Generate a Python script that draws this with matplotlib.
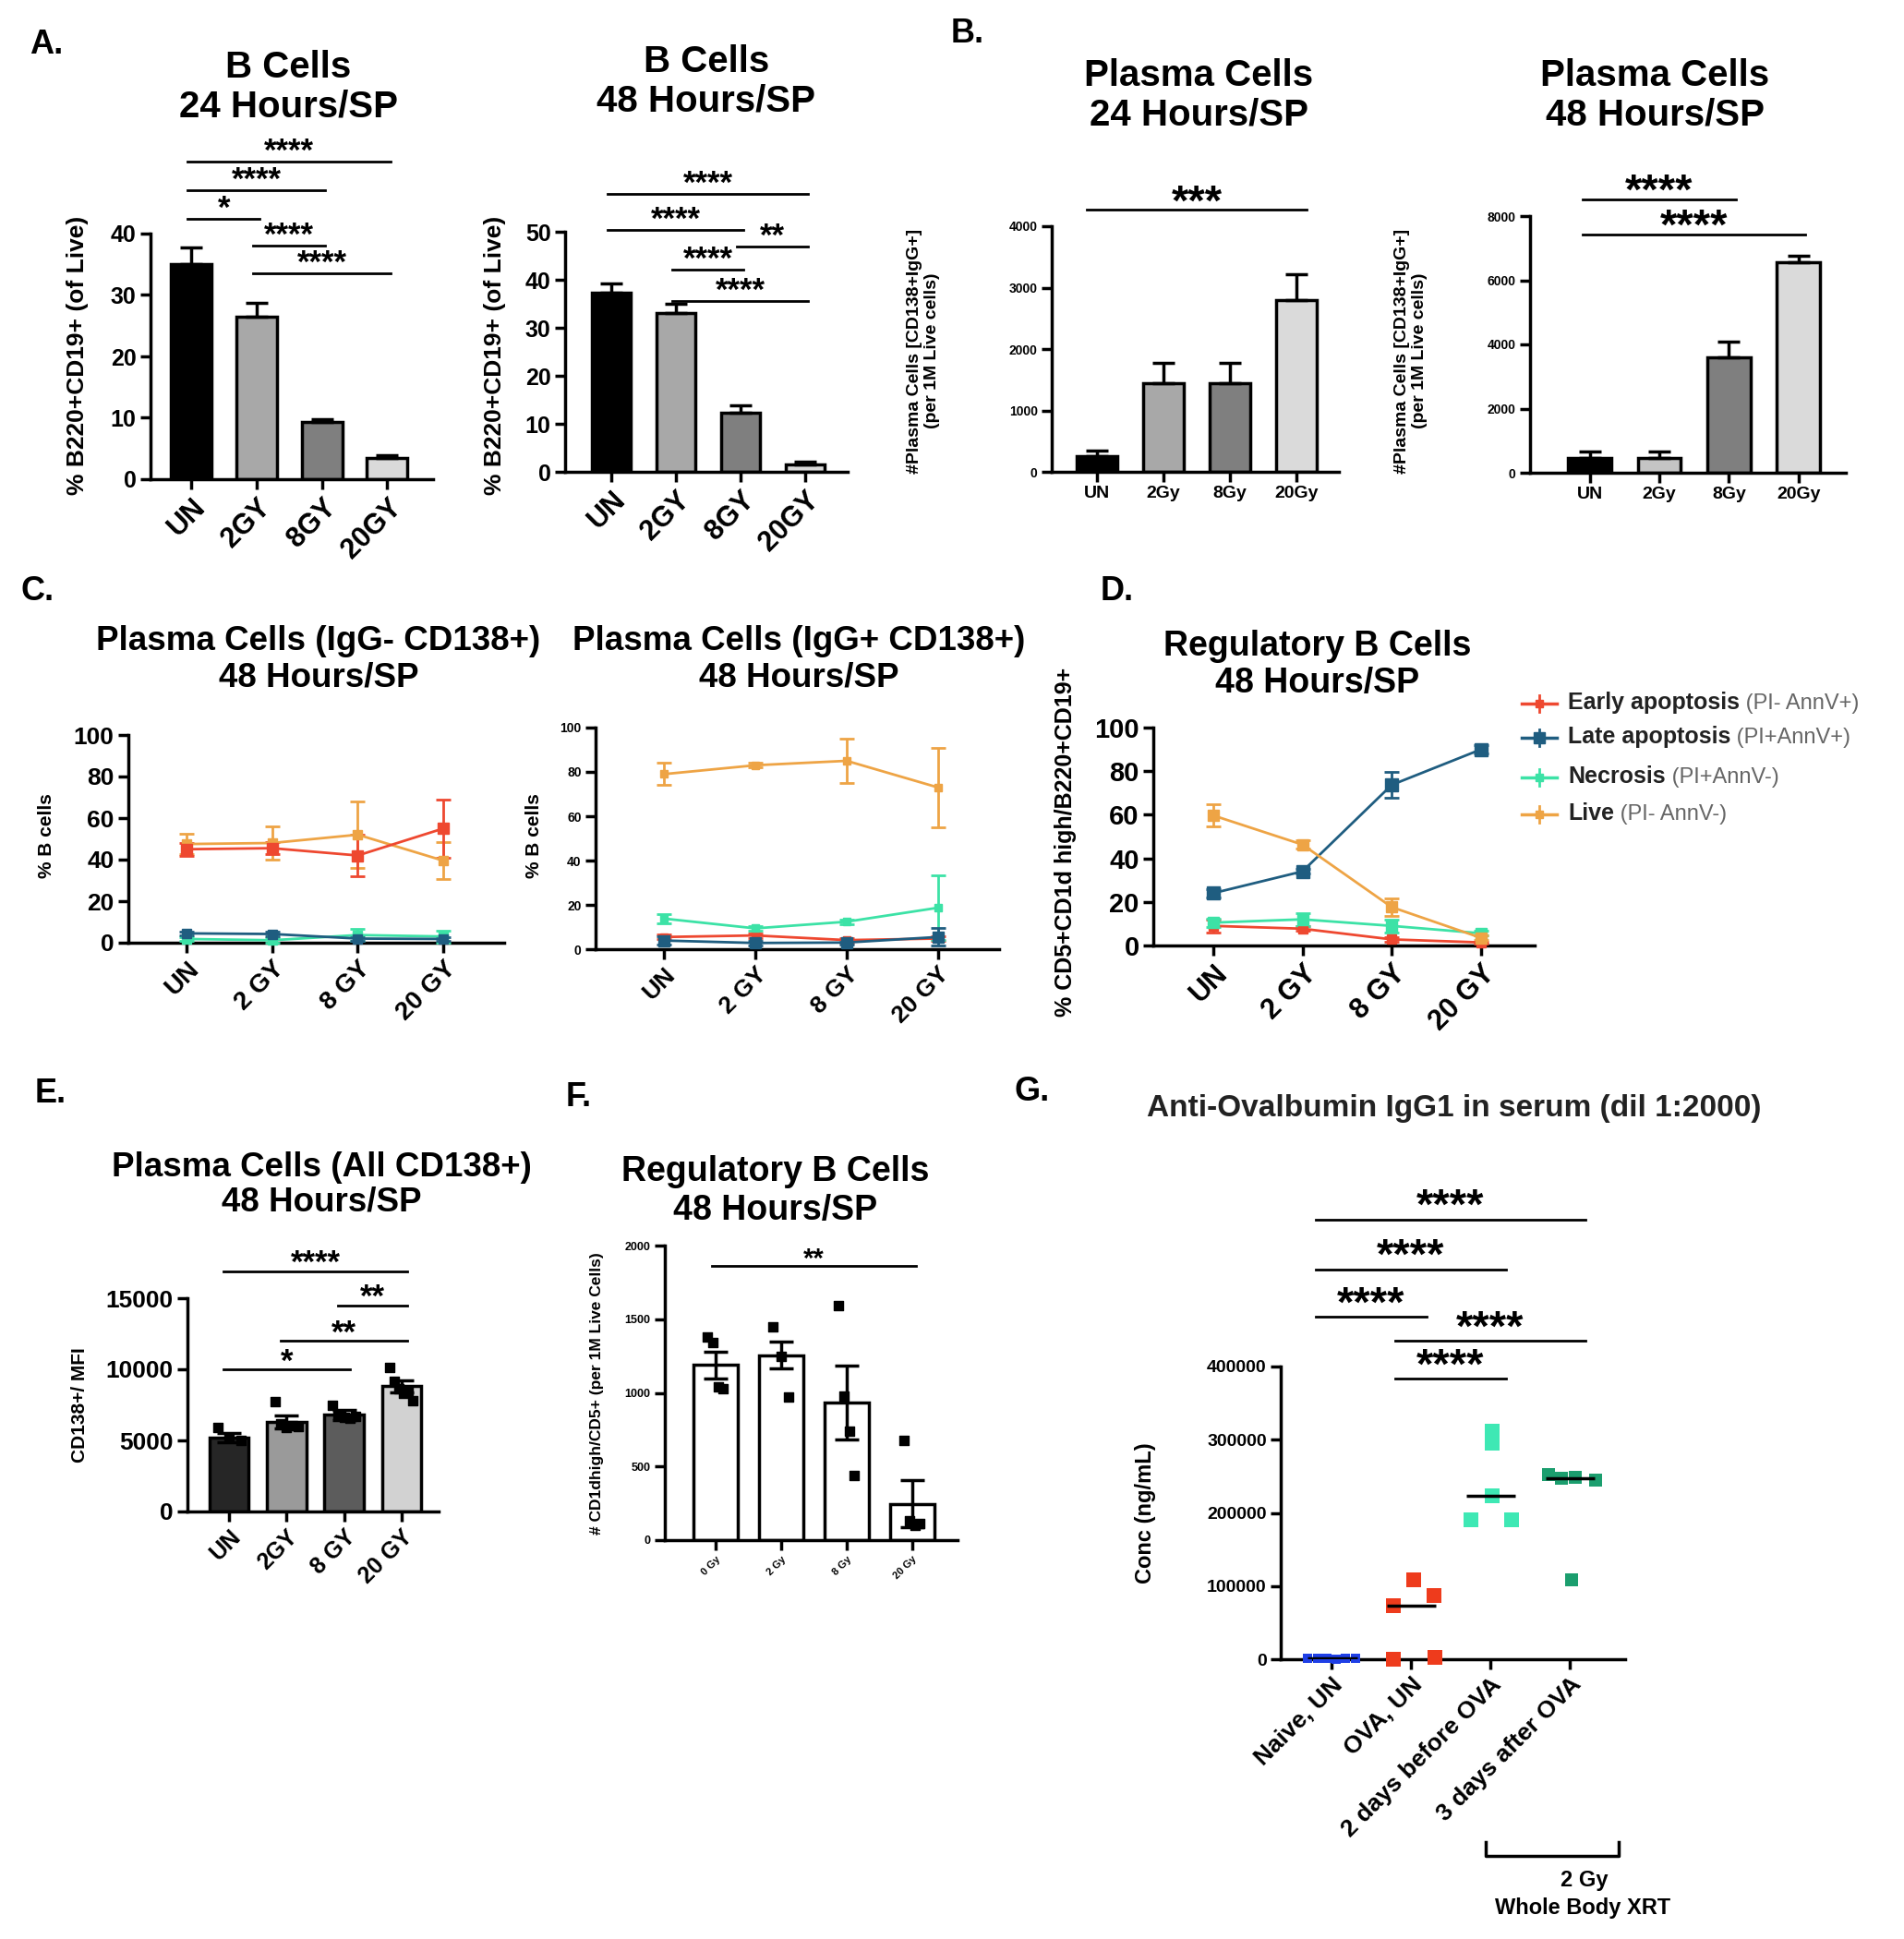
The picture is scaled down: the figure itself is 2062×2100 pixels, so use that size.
import numpy as np
import matplotlib
matplotlib.use("Agg")
import matplotlib.pyplot as plt

plt.rcParams['font.family'] = ['Liberation Sans', 'DejaVu Sans']

W, H = 2062, 2100

# ---------------- data ----------------
doses_a = ["UN", "2GY", "8GY", "20GY"]
doses_b = ["UN", "2Gy", "8Gy", "20Gy"]
doses_c = ["UN", "2 GY", "8 GY", "20 GY"]
doses_e = ["UN", "2GY", "8 GY", "20 GY"]
doses_f = ["0 Gy", "2 Gy", "8 Gy", "20 Gy"]
groups_g = ["Naive, UN", "OVA, UN", "2 days before OVA", "3 days after OVA"]

a1_mean = [35.0, 26.5, 9.3, 3.4]
a1_err = [2.8, 2.2, 0.5, 0.5]
a1_sig = [(0, 3, 51.7, "****"), (0, 2, 47.1, "****"), (0, 1, 42.4, "*"),
          (1, 2, 38.0, "****"), (1, 3, 33.5, "****")]
a2_mean = [37.3, 33.0, 12.3, 1.6]
a2_err = [2.0, 2.0, 1.5, 0.5]
a2_sig = [(0, 3, 57.9, "****"), (0, 2, 50.4, "****"), (2, 3, 46.9, "**"),
          (1, 2, 42.1, "****"), (1, 3, 35.6, "****")]

b1_mean = [250, 1450, 1450, 2800]
b1_err = [100, 330, 330, 420]
b1_sig = [(0, 3, 4270, "***")]
b2_mean = [450, 450, 3600, 6550]
b2_err = [200, 200, 500, 200]
b2_sig = [(0, 2, 8520, "****"), (0, 3, 7420, "****")]

c1_early, c1_early_err = [45.0, 45.5, 42.0, 55.0], [3, 3, 10, 14]
c1_late, c1_late_err = [4.5, 4.2, 2.0, 1.8], [1, 1, 1, 1]
c1_necro, c1_necro_err = [1.8, 1.2, 3.7, 3.0], [1, 1, 3, 3]
c1_live, c1_live_err = [47.5, 48.0, 52.0, 39.5], [5, 8, 16, 9]

c2_early, c2_early_err = [5.5, 6.2, 4.1, 4.8], [1, 1, 1, 1]
c2_late, c2_late_err = [3.9, 2.8, 3.0, 5.5], [2, 1, 1, 4]
c2_necro, c2_necro_err = [13.8, 9.4, 12.4, 18.7], [2, 1, 1, 14.5]
c2_live, c2_live_err = [79.0, 83.0, 85.0, 73.0], [5, 1, 10, 18]

d_early, d_early_err = [9.0, 7.7, 2.8, 1.4], [3, 1, 1, 0.5]
d_late, d_late_err = [24.0, 34.0, 73.7, 90.0], [2, 1, 6, 2]
d_necro, d_necro_err = [10.5, 12.0, 9.0, 5.6], [2, 3, 3, 1]
d_live, d_live_err = [59.7, 46.3, 17.6, 3.5], [5, 2, 4, 1]
d_names = ["Early apoptosis", "Late apoptosis", "Necrosis", "Live"]
d_gates = [" (PI- AnnV+)", " (PI+AnnV+)", " (PI+AnnV-)", " (PI- AnnV-)"]

e_mean = [5200, 6300, 6800, 8800]
e_err = [300, 450, 350, 450]
e_pts = [[5900, 5200, 5000], [7700, 6200, 5900, 6050, 6000],
         [7500, 6800, 6650, 6550, 6700], [10100, 9150, 8650, 8300, 8500, 7800]]
e_sig = [(0, 3, 16900, "****"), (2, 3, 14500, "**"), (1, 3, 12000, "**"), (0, 2, 10000, "*")]

f_mean = [1190, 1255, 935, 245]
f_err = [90, 90, 250, 160]
f_pts = [[1380, 1340, 1040, 1030], [1450, 1250, 970], [1590, 980, 740, 440], [680, 130, 100, 110]]
f_sig = [(0, 3, 1860, "**")]

g_naive = [1500, 800, 1200, 600, 1000, 900]
g_ova = [73600, 109000, 87600, 0, 3000]
g_before = [312000, 295000, 223000, 190000, 190000]
g_after = [252000, 247000, 248000, 245000, 109000]
g_sig = [(0, 3, 601000, "****"), (0, 2, 533000, "****"), (0, 1, 468000, "****"),
         (1, 3, 435000, "****"), (1, 2, 383000, "****")]

bar_grey_a = ["black", "#a8a8a8", "#7f7f7f", "#dadada"]
bar_grey_e = ["#262626", "#9a9a9a", "#5c5c5c", "#d2d2d2"]
col_early = "#ee4830"
col_late = "#1f5d80"
col_necro = "#3ce2a6"
col_live = "#eea445"

fig = plt.figure(figsize=(W / 100, H / 100), dpi=100)


def px_axes(x0, x1, ytop, ybot):
    return fig.add_axes([x0 / W, 1 - ybot / H, (x1 - x0) / W, (ybot - ytop) / H])


def ftext(x, y, s, **kw):
    return fig.text(x / W, 1 - y / H, s, **kw)


def style(ax, xlim, ylim, yticks, xlabels, tick_fs, xl_fs, rot=45, lw=2.5):
    ax.set_xlim(*xlim)
    ax.set_ylim(*ylim)
    ax.set_yticks(yticks)
    ax.set_xticks(range(len(xlabels)))
    if rot:
        ax.set_xticklabels(xlabels, rotation=rot, ha="right", rotation_mode="anchor",
                           fontsize=xl_fs, fontweight="bold")
    else:
        ax.set_xticklabels(xlabels, fontsize=xl_fs, fontweight="bold")
    for lab in ax.get_yticklabels():
        lab.set_fontsize(tick_fs)
        lab.set_fontweight("bold")
    ax.spines["top"].set_visible(False)
    ax.spines["right"].set_visible(False)
    ax.spines["left"].set_linewidth(lw)
    ax.spines["bottom"].set_linewidth(lw)
    ax.tick_params(direction="out", width=lw, length=8, pad=3)
    ax.patch.set_alpha(0)


def sig(ax, pairs, fs, gap, pad=0.05, lw=2):
    # gap = distance (points) from the line to the middle of the asterisks
    for i, j, y, s in pairs:
        ax.plot([i - pad, j + pad], [y, y], color="black", lw=lw, clip_on=False)
        ax.annotate(s, xy=((i + j) / 2, y), xytext=(0, gap - 0.6 * fs),
                    textcoords="offset points", ha="center", va="baseline",
                    fontsize=fs, fontweight="bold", annotation_clip=False)


def bars(ax, means, errs, colors, width, lw=2.5, both=False):
    x = np.arange(len(means))
    ax.bar(x, means, width=width, color=colors, edgecolor="black", linewidth=lw, zorder=2)
    lower = errs if both else [0] * len(errs)
    ax.errorbar(x, means, yerr=[lower, errs], fmt="none", ecolor="black",
                elinewidth=lw, capsize=width * 14, capthick=lw, zorder=3)


def lines(ax, series):
    x = np.arange(4)
    for vals, errs, col, ms in series:
        ax.errorbar(x, vals, yerr=errs, color=col, marker="s", ms=ms, lw=2,
                    elinewidth=2, capsize=6, capthick=2, clip_on=False, zorder=3)


def title(x, y, s, fs, ls=1.15):
    ftext(x, y, s, ha="center", va="center", fontsize=fs, fontweight="bold", linespacing=ls)


def ylab(x, y, s, fs):
    ftext(x, y, s, rotation=90, ha="center", va="center", fontsize=fs, fontweight="bold")


# ---------------- panel A ----------------
ax = px_axes(163, 469, 253, 519)
bars(ax, a1_mean, a1_err, bar_grey_a, 0.62)
style(ax, (-0.62, 3.7), (0, 40), [0, 10, 20, 30, 40], doses_a, 18, 22)
sig(ax, a1_sig, 25, 16)
title(312, 94, "B Cells\n24 Hours/SP", 29)
ylab(84, 385, "% B220+CD19+ (of Live)", 19)

ax = px_axes(612, 918, 251, 511)
bars(ax, a2_mean, a2_err, bar_grey_a, 0.6)
style(ax, (-0.71, 3.66), (0, 50), [0, 10, 20, 30, 40, 50], doses_a, 18, 22)
sig(ax, a2_sig, 25, 16)
title(765, 88, "B Cells\n48 Hours/SP", 29)
ylab(536, 385, "% B220+CD19+ (of Live)", 19)

# ---------------- panel B ----------------
ax = px_axes(1139, 1450, 245, 511)
bars(ax, b1_mean, b1_err, bar_grey_a, 0.61)
style(ax, (-0.68, 3.64), (0, 4000), [0, 1000, 2000, 3000, 4000], doses_b, 10, 14, rot=0)
sig(ax, b1_sig, 34, 16, pad=0.15)
title(1298, 103, "Plasma Cells\n24 Hours/SP", 29)
ylab(1000, 380, "#Plasma Cells [CD138+IgG+]\n(per 1M Live cells)", 14)

ax = px_axes(1657, 1999, 234, 512)
bars(ax, b2_mean, b2_err, ["black", "#c4c4c4", "#7f7f7f", "#dadada"], 0.62)
style(ax, (-0.86, 3.68), (0, 8000), [0, 2000, 4000, 6000, 8000], doses_b, 10, 14, rot=0)
sig(ax, b2_sig, 34, 17, pad=0.1)
title(1792, 103, "Plasma Cells\n48 Hours/SP", 29)
ylab(1528, 380, "#Plasma Cells [CD138+IgG+]\n(per 1M Live cells)", 14)

# ---------------- panel C ----------------
ax = px_axes(139, 546, 796, 1021)
lines(ax, [(c1_necro, c1_necro_err, col_necro, 7),
           (c1_late, c1_late_err, col_late, 7),
           (c1_live, c1_live_err, col_live, 7),
           (c1_early, c1_early_err, col_early, 8)])
style(ax, (-0.68, 3.71), (0, 100), [0, 20, 40, 60, 80, 100], doses_c, 19, 20)
title(345, 714, "Plasma Cells (IgG- CD138+)\n48 Hours/SP", 26.5)
ylab(51, 905, "% B cells", 15)

ax = px_axes(645, 1082, 788, 1028)
lines(ax, [(c2_early, c2_early_err, col_early, 6),
           (c2_necro, c2_necro_err, col_necro, 6),
           (c2_late, c2_late_err, col_late, 8),
           (c2_live, c2_live_err, col_live, 6)])
style(ax, (-0.75, 3.67), (0, 100), [0, 20, 40, 60, 80, 100], doses_c, 10, 19)
title(865, 714, "Plasma Cells (IgG+ CD138+)\n48 Hours/SP", 26.5)
ylab(579, 905, "% B cells", 15)

# ---------------- panel D ----------------
ax = px_axes(1249, 1662, 788, 1024)
d_series = [(d_early, d_early_err, col_early, 7),
            (d_late, d_late_err, col_late, 10),
            (d_necro, d_necro_err, col_necro, 8),
            (d_live, d_live_err, col_live, 8)]
lines(ax, d_series)
style(ax, (-0.67, 3.6), (0, 100), [0, 20, 40, 60, 80, 100], doses_c, 21, 22)
title(1427, 720, "Regulatory B Cells\n48 Hours/SP", 27)
ylab(1154, 912, "% CD5+CD1d high/B220+CD19+", 18)

leg_y = [762, 799, 842, 882]
for (vals, errs, col, ms), name, gate, ly in zip(d_series, d_names, d_gates, leg_y):
    yf = 1 - ly / H
    fig.add_artist(plt.Line2D([1648 / W, 1686 / W], [yf, yf], color=col, lw=2.5))
    fig.add_artist(plt.Line2D([1667 / W, 1667 / W], [yf - 9 / H, yf + 9 / H], color=col, lw=2))
    fig.add_artist(plt.Line2D([1667 / W], [yf], color=col, marker="s", ms=ms * 0.8))
    t = ftext(1698, ly + 6, name, ha="left", va="baseline", fontsize=18,
              fontweight="bold", color="#222222")
    fig.add_artist(matplotlib.text.Annotation(gate, xy=(1, 0), xycoords=t, va="bottom",
                                              ha="left", fontsize=17, color="#666666"))

# ---------------- panel E ----------------
ax = px_axes(203, 475, 1406, 1637)
bars(ax, e_mean, e_err, bar_grey_e, 0.68, both=True)
for i, pts in enumerate(e_pts):
    off = np.linspace(-0.2, 0.2, len(pts))
    ax.scatter(i + off, pts, marker="s", s=45, color="black", zorder=4, clip_on=False)
style(ax, (-0.73, 3.65), (0, 15000), [0, 5000, 10000, 15000], doses_e, 19, 18)
sig(ax, e_sig, 25, 14, pad=0.1)
title(348, 1283, "Plasma Cells (All CD138+)\n48 Hours/SP", 26.5, 1.1)
ylab(86, 1522, "CD138+/ MFI", 15)

# ---------------- panel F ----------------
ax = px_axes(720, 1037, 1349, 1668)
bars(ax, f_mean, f_err, ["white"] * 4, 0.68, both=True)
for i, pts in enumerate(f_pts):
    off = np.linspace(-0.12, 0.12, len(pts))
    ax.scatter(i + off, pts, marker="s", s=45, color="black", zorder=4, clip_on=False)
style(ax, (-0.77, 3.69), (0, 2000), [0, 500, 1000, 1500, 2000], doses_f, 9, 8)
sig(ax, f_sig, 21, 12, pad=0.05)
title(840, 1290, "Regulatory B Cells\n48 Hours/SP", 27, 1.2)
ylab(647, 1509, "# CD1dhigh/CD5+ (per 1M Live Cells)", 12.5)

# ---------------- panel G ----------------
ax = px_axes(1387, 1760, 1480, 1797)
g_groups = [(g_naive, "#1f3fe6", [-0.3, -0.18, -0.06, 0.06, 0.18, 0.3], 60),
            (g_ova, "#ee3b1c", [-0.22, 0.03, 0.29, -0.22, 0.3], 140),
            (g_before, "#3ee8b4", [0.03, 0.03, 0.03, -0.24, 0.27], 140),
            (g_after, "#1b9e6e", [-0.26, -0.1, 0.07, 0.33, 0.03], 110)]
for i, (vals, col, off, sz) in enumerate(g_groups):
    ax.scatter(i + np.array(off), vals, marker="s", s=sz, color=col, zorder=3,
               clip_on=False, linewidths=0)
    ax.hlines(np.median(vals), i - 0.3, i + 0.32, color="black", lw=2.5, zorder=4)
style(ax, (-0.64, 3.7), (0, 400000), [0, 100000, 200000, 300000, 400000], groups_g, 14, 19)
sig(ax, g_sig, 34, 21, pad=0.2)
ftext(1575, 1201, "Anti-Ovalbumin IgG1 in serum (dil 1:2000)", ha="center", va="center",
      fontsize=24, fontweight="bold", color="#222222")
ylab(1240, 1639, "Conc (ng/mL)", 17)
br = [(1609, 1995), (1609, 2010), (1753, 2010), (1753, 1995)]
fig.add_artist(plt.Line2D([p[0] / W for p in br], [1 - p[1] / H for p in br],
                          color="black", lw=2.5))
ftext(1716, 2037, "2 Gy", ha="center", va="center", fontsize=17, fontweight="bold")
ftext(1714, 2067, "Whole Body XRT", ha="center", va="center", fontsize=17, fontweight="bold")

# ---------------- panel letters ----------------
for lx, ly, s in [(32, 48, "A."), (1030, 36, "B."), (22, 640, "C."), (1192, 640, "D."),
                  (38, 1184, "E."), (613, 1188, "F."), (1099, 1183, "G.")]:
    ftext(lx, ly, s, ha="left", va="center", fontsize=26, fontweight="bold")

fig.savefig("out.png", dpi=100)
